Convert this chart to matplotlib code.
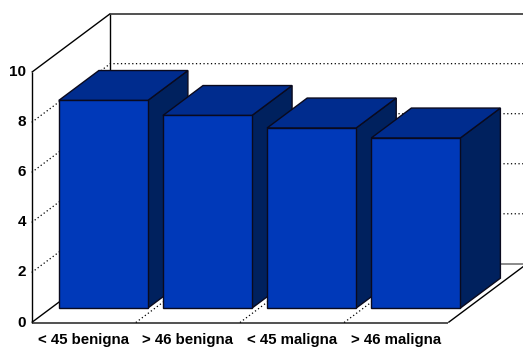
import matplotlib
matplotlib.use("Agg")
import matplotlib.pyplot as plt
from matplotlib.patches import Polygon

# Data
categories = ["< 45 benigna", "> 46 benigna", "< 45 maligna", "> 46 maligna"]
values = [8.3, 7.7, 7.2, 6.8]
y_ticks = [0, 2, 4, 6, 8, 10]

# Oblique 3-D look: a unit of depth shifts points right and up (data units)
DX, DY = 0.755, 2.346
Z_FRONT, Z_BACK = 0.245, 0.755     # bar depth span inside the box
INSET, BAR_W = 0.075, 0.855        # bar placement inside a category slot

FACE = "#0039B9"
TOP = "#002C8E"
SIDE = "#00215E"
EDGE = "#0A0A1E"


def proj(x, v, z):
    return (x + z * DX, v + z * DY)


fig = plt.figure(figsize=(5.23, 3.47), dpi=100)
ax = fig.add_axes([0, 0, 1, 1])
ax.set_xlim(-0.304, 4.717)
ax.set_ylim(-0.979, 12.89)
ax.axis("off")

n = len(categories)
ymax = y_ticks[-1]


def seg(p, q, z=2, **kw):
    ax.plot([p[0], q[0]], [p[1], q[1]], solid_capstyle="butt", zorder=z, **kw)


# Left wall edges
seg(proj(0, 0, 0), proj(0, ymax, 0), color="black", lw=1.0)
seg(proj(0, ymax, 0), proj(0, ymax, 1), color="black", lw=1.0)
seg(proj(0, 0, 1), proj(0, ymax, 1), color="black", lw=1.0)
# Back wall top edge
seg(proj(0, ymax, 1), proj(n, ymax, 1), color="#333333", lw=1.2)

# Dotted gridlines on the left and back walls
for v in y_ticks[1:-1]:
    a, b, c = proj(0, v, 0), proj(0, v, 1), proj(n, v, 1)
    ax.plot([a[0], b[0], c[0]], [a[1], b[1], c[1]], color="black",
            lw=0.9, linestyle=(0, (1, 2)), zorder=2)

# Floor
floor = [proj(0, 0, 0), proj(n, 0, 0), proj(n, 0, 1), proj(0, 0, 1)]
ax.add_patch(Polygon(floor, closed=True, facecolor="white", edgecolor="none",
                     zorder=2.5))
seg(proj(0, 0, 1), proj(n, 0, 1), z=3, color="#777777", lw=1.2)
seg(proj(0, 0, 0), proj(n, 0, 0), z=3, color="#333333", lw=1.2)
seg(proj(0, 0, 0), proj(0, 0, 1), z=3, color="black", lw=1.0)
seg(proj(n, 0, 0), proj(n, 0, 1), z=3, color="black", lw=1.0)
for i in range(1, n):
    seg(proj(i, 0, 0), proj(i, 0, 1), z=3, color="black", lw=0.9,
        linestyle=(0, (1, 2)))

# Bars, drawn left to right so each one overlaps its left neighbour
for i, v in enumerate(values):
    x0 = i + INSET
    x1 = x0 + BAR_W
    front = [proj(x0, 0, Z_FRONT), proj(x1, 0, Z_FRONT),
             proj(x1, v, Z_FRONT), proj(x0, v, Z_FRONT)]
    side = [proj(x1, 0, Z_FRONT), proj(x1, 0, Z_BACK),
            proj(x1, v, Z_BACK), proj(x1, v, Z_FRONT)]
    top = [proj(x0, v, Z_FRONT), proj(x1, v, Z_FRONT),
           proj(x1, v, Z_BACK), proj(x0, v, Z_BACK)]
    for k, (poly, col) in enumerate(((side, SIDE), (top, TOP), (front, FACE))):
        ax.add_patch(Polygon(poly, closed=True, facecolor=col,
                             edgecolor=EDGE, lw=1.0, joinstyle="miter",
                             zorder=4 + i * 0.1 + k * 0.01))

# Value axis labels
for v in y_ticks:
    ax.text(-0.055, v, str(v), ha="right", va="center", fontsize=11,
            fontweight="bold", family="Liberation Sans", color="black")

# Category labels
for i, name in enumerate(categories):
    ax.text(i + 0.5, -0.40, name, ha="center", va="top", fontsize=10.8,
            fontweight="bold", family="Liberation Sans", color="black")

fig.savefig("out.png", dpi=100)
